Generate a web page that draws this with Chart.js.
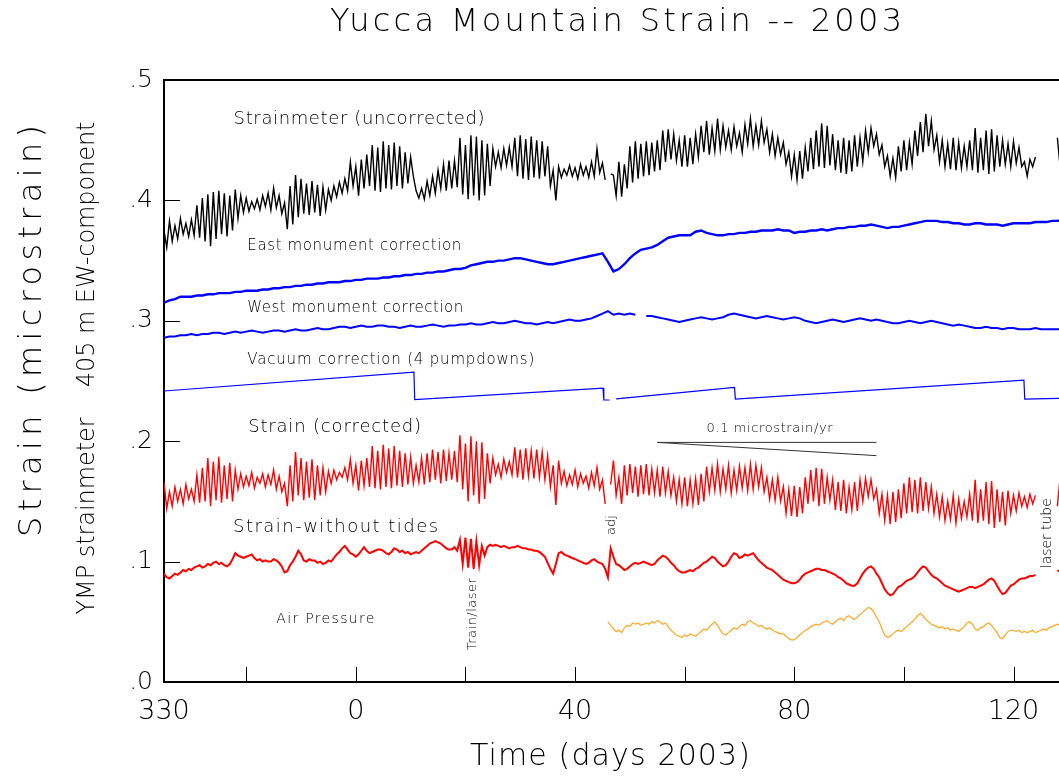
<!DOCTYPE html>
<html><head><meta charset="utf-8">
<script src="https://cdn.jsdelivr.net/npm/chart.js@4.4.1/dist/chart.umd.min.js"></script>
<style>html,body{margin:0;padding:0;background:#fff;overflow:hidden}#wrap{width:1059px;height:776px}</style>
</head><body><div id="wrap"><canvas id="c" width="1059" height="776"></canvas></div>
<script>
// ---------- DATA (days relative to 2003; day -35 = day 330 of 2002) ----------
const TIDE_START = -35, TIDE_STEP = 0.5;   // half-day samples
const DAILY_START = -35, DAILY_STEP = 1;   // daily samples
const AIR_START = 46, AIR_STEP = 0.5;

const strainUncorrected = [
.375,.361, .383,.366, .379,.368, .385,.372, .381,.370, .384,.371, .396,.369, .402,.366, .405,.362, .407,.368,
.408,.372, .406,.370, .404,.375, .409,.385, .404,.390, .402,.391, .399,.393, .401,.392, .404,.395, .406,.392,
.410,.394, .404,.389, .398,.376, .412,.380, .421,.386, .418,.389, .414,.388, .416,.390, .413,.387, .411,.392,
.409,.400, .412,.403, .415,.406, .418,.408, .432,.412, .428,.404, .434,.410, .438,.412, .446,.408, .444,.407,
.449,.410, .446,.409, .448,.412, .445,.410, .440,.414, .436,.420, .408,.402, .410,.401, .416,.404, .420,.406,
.425,.410, .430,.408, .433,.410, .433,.411, .452,.405, .446,.401, .454,.404, .453,.400, .450,.404, .447,.412,
.443,.428, .440,.427, .443,.429, .444,.428, .452,.420, .454,.418, .451,.417, .453,.419, .450,.418, .449,.420,
.445,.412, .425,.400, .428,.419, .426,.421, .429,.420, .427,.418, .430,.421, .428,.419, .432,.420, .443,.423,
.431,.417, null,.422, .421,.404, .432,.403, .430,.410, .445,.415, .449,.418, .447,.420, .449,.421, .448,.424,
.450,.425, .458,.432, .459,.434, .455,.433, .450,.428, .454,.428, .452,.430, .455,.436, .462,.440, .466,.438,
.460,.441, .468,.442, .462,.444, .458,.442, .461,.445, .456,.440, .463,.447, .468,.445, .462,.446, .466,.448,
.459,.440, .455,.437, .452,.438, .448,.430, .440,.420, .438,.417, .441,.418, .444,.424, .452,.426, .458,.428,
.464,.427, .462,.429, .455,.425, .450,.423, .452,.422, .450,.424, .454,.428, .452,.432, .458,.440, .460,.445,
.455,.438, .446,.428, .437,.420, .435,.419, .445,.424, .450,.425, .448,.430, .458,.437, .465,.440, .472,.445,
.466,.442, .454,.432, .450,.428, .447,.426, .452,.425, .448,.427, .445,.428, .450,.425, .460,.423, .452,.425,
.458,.422, .459,.424, .454,.428, .450,.430, .447,.428, .449,.431, .444,.428, .432,.420, .434,.428, .436,null,
null,null, null,null, null,null, .452,.428
];

const strainCorrected = [
.166,.144, .158,.146, .162,.150, .160,.148, .164,.152, .160,.150, .172,.149, .178,.150, .186,.146, .183,.151,
.187,.149, .180,.152, .182,.150, .176,.160, .173,.162, .171,.163, .174,.161, .170,.165, .173,.162, .172,.164,
.176,.160, .171,.158, .165,.146, .180,.150, .191,.155, .186,.151, .183,.153, .185,.151, .180,.155, .178,.158,
.175,.165, .176,.168, .174,.170, .178,.168, .185,.165, .180,.159, .184,.163, .186,.162, .196,.161, .192,.160,
.197,.162, .194,.161, .196,.163, .192,.162, .190,.164, .187,.165, .180,.166, .186,.164, .190,.166, .193,.168,
.191,.165, .193,.167, .190,.168, .192,.166, .205,.160, .198,.150, .204,.155, .200,.148, .199,.152, .190,.165,
.186,.172, .181,.170, .185,.174, .183,.172, .195,.170, .193,.168, .194,.171, .192,.169, .193,.170, .191,.168,
.188,.162, .180,.147, .184,.165, .175,.163, .172,.164, .176,.162, .173,.165, .171,.161, .174,.163, .178,.160,
.168,.148, null,.164, .184,.155, .170,.148, .180,.155, .181,.157, .179,.154, .180,.156, .181,.155, .177,.157,
.176,.154, .179,.157, .175,.155, .170,.150, .168,.148, .170,.146, .168,.148, .169,.147, .173,.150, .179,.158,
.178,.159, .181,.158, .177,.160, .180,.157, .176,.159, .179,.161, .178,.159, .181,.160, .180,.162, .178,.158,
.170,.152, .168,.151, .170,.150, .162,.140, .160,.138, .163,.137, .162,.140, .170,.148, .176,.150, .178,.146,
.177,.148, .170,.151, .168,.143, .166,.142, .168,.140, .162,.143, .166,.142, .168,.150, .169,.154, .168,.152,
.160,.140, .156,.134, .155,.131, .158,.133, .160,.136, .165,.140, .170,.141, .168,.140, .170,.142, .166,.144,
.162,.140, .156,.137, .154,.134, .150,.135, .155,.132, .152,.136, .150,.137, .156,.134, .168,.132, .160,.134,
.166,.131, .167,.128, .160,.133, .158,.130, .159,.140, .155,.142, .157,.146, .154,.145, .156,.148, .155,null,
null,null, null,null, null,null, .146,.170
];

const strainNoTides = [
.090,.087, .086,.088, .090,.089, .091,.093, .092,.094, .093,.095, .096,.097, .095,.096, .098,.097, .099,.100,
.098,.099, .097,.096, .098,.102, .107,.105, .104,.103, .104,.105, .106,.103, .101,.102, .100,.101, .100,.100,
.102,.101, .099,.096, .091,.092, .097,.100, .104,.109, .106,.101, .100,.102, .101,.101, .099,.100, .098,.099,
.101,.100, .103,.106, .108,.111, .113,.110, .107,.106, .104,.106, .109,.112, .109,.107, .108,.109, .110,.110,
.109,.107, .106,.108, .111,.110, .108,.109, .107,.108, .106,.107, .108,.107, .109,.111, .113,.115, .116,.117,
.116,.115, .113,.111, .110,.110, .112,.109, .118,.098, .120,.095, .119,.094, .117,.097, .113,.105, .112,.114,
.113,.114, .113,.112, .113,.112, .111,.112, .112,.113, .112,.111, .111,.110, .110,.109, .109,.108, .106,.104,
.099,.094, .090,.098, .107,.108, .106,.105, .104,.103, .102,.101, .100,.099, .098,.099, .101,.102, .100,.099,
.098,.094, .087,.111, .104,.098, .097,.095, .093,.094, .096,.098, .099,.098, .099,.100, .099,.098, .097,.098,
.101,.103, .105,.104, .102,.099, .097,.094, .092,.091, .091,.092, .093,.092, .094,.095, .097,.099, .100,.102,
.104,.103, .100,.098, .096,.097, .100,.104, .107,.106, .103,.104, .106,.105, .106,.107, .104,.101, .099,.097,
.095,.094, .093,.091, .089,.087, .085,.084, .083,.082, .082,.083, .085,.088, .090,.091, .092,.093, .094,.094,
.093,.093, .092,.091, .090,.089, .087,.086, .084,.082, .081,.080, .080,.082, .086,.090, .093,.095, .096,.094,
.090,.087, .082,.077, .074,.072, .073,.076, .079,.080, .082,.084, .085,.086, .088,.091, .094,.096, .095,.092,
.089,.087, .086,.084, .082,.080, .079,.078, .077,.076, .075,.076, .077,.078, .079,.079, .078,.079, .080,.081,
.083,.085, .086,.084, .080,.076, .073,.074, .077,.080, .081,.083, .085,.086, .086,.087, .088,.088, .089,null,
null,null, null,null, null,null, .092,.093
];

const airPressure = [
.050,.047, .044,.042, .043,.041, .045,.047, .046,.049, .048,.049, .047,.048, .049,.048, .050,.049, .051,.050,
.048,.049, .046,.043, .041,.039, .038,.037, .039,.038, .040,.039, .038,.040, .042,.044, .043,.046, .048,.050,
.047,.043, .040,.039, .041,.043, .045,.044, .046,.048, .047,.050, .051,.049, .048,.046, .047,.045, .044,.045,
.043,.042, .041,.040, .040,.038, .036,.035, .035,.037, .039,.041, .043,.044, .046,.047, .048,.047, .049,.050,
.051,.049, .048,.050, .052,.053, .051,.054, .055,.053, .052,.054, .056,.058, .060,.062, .061,.058, .054,.050,
.044,.039, .037,.038, .040,.042, .043,.042, .044,.046, .048,.050, .052,.055, .057,.055, .052,.050, .048,.047,
.046,.045, .046,.044, .045,.043, .044,.043, .042,.044, .046,.049, .050,.048, .044,.043, .045,.046, .048,.049,
.047,.044, .041,.037, .036,.039, .042,.043, .043,.042, .043,.041, .042,.041, .042,.043, .041,.042, .043,.044,
.043,.045, .046,.047, .048,.047
];

const eastMonument = [
.315,.317,.318,.320,.320,.320,.321,.321,.322,.322,
.323,.323,.323,.324,.324,.325,.325,.325,.326,.326,
.327,.327,.328,.328,.329,.329,.330,.330,.331,.331,
.332,.332,.332,.333,.333,.334,.334,.335,.335,.335,
.336,.336,.337,.337,.338,.338,.339,.339,.340,.340,
.341,.341,.342,.343,.343,.344,.346,.347,.348,.349,
.349,.350,.350,.351,.352,.352,.351,.350,.349,.348,
.347,.347,.348,.349,.350,.351,.352,.353,.354,.355,
.356,.349,.341,.343,.347,.352,.356,.359,.360,.361,
.363,.366,.369,.370,.371,.371,.371,.374,.375,.373,
.372,.371,.371,.372,.372,.373,.373,.374,.374,.375,
.375,.375,.376,.375,.375,.373,.374,.374,.375,.375,
.376,.375,.376,.377,.377,.378,.378,.379,.379,.380,
.379,.378,.377,.378,.378,.379,.380,.381,.382,.383,
.383,.383,.382,.382,.381,.381,.380,.380,.381,.381,
.380,.380,.380,.379,.380,.381,.381,.381,.381,.382,
.382,.382,.383,.383,.384
];

const westMonument = [
.286,.287,.287,.288,.288,.289,.288,.289,.289,.290,
.290,.289,.290,.291,.290,.291,.292,.291,.290,.291,
.292,.292,.291,.292,.293,.292,.292,.293,.294,.293,
.293,.294,.295,.295,.294,.295,.296,.295,.295,.296,
.296,.295,.295,.294,.295,.296,.295,.295,.296,.297,
.296,.295,.296,.296,.297,.297,.298,.297,.297,.298,
.299,.298,.298,.299,.300,.299,.298,.298,.297,.298,
.299,.298,.299,.300,.301,.300,.300,.301,.302,.304,
.306,.308,.305,.306,.305,.306,.305,null,.304,.304,
.303,.302,.301,.300,.299,.300,.301,.302,.303,.302,
.301,.302,.303,.305,.306,.305,.304,.303,.302,.303,
.304,.303,.302,.301,.302,.303,.302,.300,.299,.298,
.299,.300,.301,.300,.299,.300,.301,.302,.301,.300,
.301,.300,.299,.298,.298,.299,.300,.299,.298,.299,
.300,.299,.298,.297,.296,.297,.296,.295,.294,.294,
.295,.294,.294,.293,.294,.294,.293,.293,.293,.294,
.293,.293,.293,.293,.293
];

const vacuumDays = [-35, 10.6, 10.75, 45.1, 45.25, 46.3, 46.3, 47.5, 69.1, 69.25, 121.9, 122.05, 128.3];
const vacuumVals = [.2417, .2574, .2345, .2440, .2342, .2342, null, .2352, .2447, .2350, .2508, .2350, .2356];

const rateDays = [55, 95];
const rateFlat = [.199, .199];
const rateSloped = [.199, .188];   // 0.1 microstrain/yr over 40 days

const xTickMarks = [-20, 0, 20, 40, 60, 80, 100, 120];
const xLabelValues = [-35, 0, 40, 80, 120];
const xLabelTexts = ['330', '0', '40', '80', '120'];
const yTickValues = [0, .1, .2, .3, .4, .5];
const yTickLabels = ['.0', '.1', '.2', '.3', '.4', '.5'];

// ---------- helpers ----------
const regular = (start, step, vals) => vals.map((v, i) => ({x: start + i * step, y: v}));
const paired = (xs, ys) => xs.map((x, i) => ({x: x, y: ys[i]}));

const FONT = '"DejaVu Sans", "Liberation Sans", sans-serif';
const FW = '200';

function spaced(ctx, s, cx, cy, size, width, rot) {
  ctx.save();
  ctx.translate(cx, cy);
  if (rot) ctx.rotate(rot);
  ctx.font = FW + ' ' + size + 'px ' + FONT;
  ctx.letterSpacing = '0px';
  const w0 = ctx.measureText(s).width;
  const ls = (width - w0) / Math.max(1, s.length - 1);
  ctx.letterSpacing = ls + 'px';
  ctx.textAlign = 'left';
  ctx.textBaseline = 'middle';
  ctx.fillStyle = '#000';
  ctx.fillText(s, -width / 2, 0);
  ctx.restore();
}

// labels inside the plot (anchored in data units: left edge day, centre value)
const plotLabels = [
  {t: 'Strainmeter (uncorrected)', day: -22.3, val: .4677, size: 18, w: 251},
  {t: 'East monument correction', day: -19.8, val: .3622, size: 15, w: 214},
  {t: 'West monument correction', day: -19.8, val: .3106, size: 15, w: 216},
  {t: 'Vacuum correction (4 pumpdowns)', day: -19.8, val: .2674, size: 15, w: 287},
  {t: 'Strain (corrected)', day: -19.65, val: .2117, size: 18, w: 173},
  {t: 'Strain-without tides', day: -22.4, val: .1286, size: 18, w: 205},
  {t: 'Air Pressure', day: -14.5, val: .0521, size: 14, w: 98},
  {t: '0.1 microstrain/yr', day: 64.0, val: .2101, size: 13, w: 126}
];
const rotLabels = [
  {t: 'Train/laser', day: 21.3, val: .0563, size: 13, w: 72},
  {t: 'adj', day: 46.7, val: .1303, size: 13, w: 20},
  {t: 'laser tube', day: 126.2, val: .1236, size: 14, w: 70}
];

const decor = {
  id: 'decor',
  afterDraw(chart) {
    const {ctx, chartArea: a, scales: {x, y}} = chart;
    ctx.save();
    ctx.strokeStyle = '#000';
    ctx.lineWidth = 2;
    ctx.beginPath(); ctx.moveTo(a.left - 1, a.top); ctx.lineTo(a.right, a.top); ctx.stroke();
    ctx.lineWidth = 1;
    xTickMarks.forEach(v => {
      const px = Math.round(x.getPixelForValue(v)) + 0.5;
      ctx.beginPath(); ctx.moveTo(px, a.bottom); ctx.lineTo(px, a.bottom - 15); ctx.stroke();
    });
    yTickValues.slice(1, 5).forEach(v => {
      const py = Math.round(y.getPixelForValue(v)) + 0.5;
      ctx.beginPath(); ctx.moveTo(a.left, py); ctx.lineTo(a.left + 16, py); ctx.stroke();
    });
    plotLabels.forEach(l => {
      const lx = x.getPixelForValue(l.day), ly = y.getPixelForValue(l.val);
      spaced(ctx, l.t, lx + l.w / 2, ly, l.size, l.w, 0);
    });
    rotLabels.forEach(l => {
      spaced(ctx, l.t, x.getPixelForValue(l.day), y.getPixelForValue(l.val), l.size, l.w, -Math.PI / 2);
    });
    // titles
    spaced(ctx, 'Yucca Mountain Strain -- 2003', 616, 23, 32, 572, 0);
    spaced(ctx, 'Time (days 2003)', 610, 757, 30, 280, 0);
    spaced(ctx, 'Strain (microstrain)', 33, 331, 32, 412, -Math.PI / 2);
    spaced(ctx, 'YMP strainmeter    405 m EW-component', 88, 368, 24, 493, -Math.PI / 2);
    ctx.restore();
  }
};

const line = (label, data, color, width) => ({
  label, data, borderColor: color, borderWidth: width, pointRadius: 0,
  tension: 0, spanGaps: false, fill: false
});

new Chart(document.getElementById('c'), {
  type: 'line',
  data: {
    datasets: [
      line('Strainmeter (uncorrected)', regular(TIDE_START, TIDE_STEP, strainUncorrected), '#000000', 1.4),
      line('East monument correction', regular(DAILY_START, DAILY_STEP, eastMonument), '#0000ff', 2.4),
      line('West monument correction', regular(DAILY_START, DAILY_STEP, westMonument), '#0000ff', 2),
      line('Vacuum correction', paired(vacuumDays, vacuumVals), '#0000ff', 1.2),
      line('Strain (corrected)', regular(TIDE_START, TIDE_STEP, strainCorrected), '#ff0000', 1.4),
      line('Strain-without tides', regular(TIDE_START, TIDE_STEP, strainNoTides), '#ff0000', 2),
      line('Air Pressure', regular(AIR_START, AIR_STEP, airPressure), '#ffa620', 1.2),
      line('rate flat', paired(rateDays, rateFlat), '#333333', 1),
      line('rate sloped', paired(rateDays, rateSloped), '#333333', 1)
    ]
  },
  options: {
    responsive: false,
    animation: false,
    devicePixelRatio: 1,
    events: [],
    layout: {padding: {top: 80, left: 0, right: 0, bottom: 0}},
    plugins: {legend: {display: false}, tooltip: {enabled: false}, title: {display: false}},
    scales: {
      x: {
        type: 'linear', min: -35, max: 128.3,
        grid: {display: false, drawTicks: false},
        border: {display: true, color: '#000', width: 2},
        afterFit: s => { s.height = 94; },
        afterBuildTicks: s => { s.ticks = xLabelValues.map(v => ({value: v})); },
        ticks: {
          autoSkip: false, maxRotation: 0, padding: 14, color: '#000',
          font: {family: FONT, size: 27, weight: FW},
          callback: v => { const i = xLabelValues.indexOf(v); return i >= 0 ? xLabelTexts[i] : ''; }
        }
      },
      y: {
        type: 'linear', min: 0, max: 0.5,
        grid: {display: false, drawTicks: false},
        border: {display: true, color: '#000', width: 2},
        afterFit: s => { s.width = 164; },
        afterBuildTicks: s => { s.ticks = yTickValues.map(v => ({value: v})); },
        ticks: {
          padding: 11, color: '#000',
          font: {family: FONT, size: 25, weight: FW},
          callback: v => { const i = yTickValues.findIndex(t => Math.abs(t - v) < 1e-9); return i >= 0 ? yTickLabels[i] : ''; }
        }
      }
    }
  },
  plugins: [decor]
});
</script></body></html>
